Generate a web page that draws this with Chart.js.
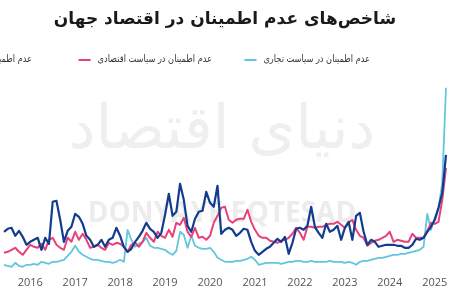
<!DOCTYPE html>
<html lang="fa">
<head>
<meta charset="utf-8">
<script src="https://cdn.jsdelivr.net/npm/chart.js@4"></script>
<style>
  html, body { margin: 0; padding: 0; background: #fff; }
  #wrap { width: 450px; height: 300px; position: relative; }
</style>
</head>
<body>
<div id="wrap"><canvas id="chart"></canvas></div>
<script>
// monthly data, Jun 2015 .. Apr 2025
const startYear = 2015;
const startMonth = 6;
const tickYears = ['2016', '2017', '2018', '2019', '2020', '2021', '2022', '2023', '2024', '2025'];

const seriesNames = ['عدم اطمینان جهانی', 'عدم اطمینان در سیاست اقتصادی', 'عدم اطمینان در سیاست تجاری'];

const worldUncertainty = [
  40, 43, 44, 36, 41, 35, 27, 30, 32, 34, 22, 34, 28, 70, 71, 52, 30, 41, 45, 58,
  55, 48, 36, 32, 25, 27, 32, 25, 32, 34, 44, 36, 25, 20, 23, 30, 35, 41, 49, 43,
  40, 34, 39, 57, 78, 56, 60, 88, 72, 46, 40, 53, 60, 61, 80, 69, 65, 86, 38, 42,
  44, 42, 36, 39, 43, 42, 30, 21, 17, 20, 23, 25, 29, 33, 30, 35, 18, 29, 43, 44,
  42, 46, 65, 45, 39, 34, 48, 40, 42, 46, 32, 44, 50, 32, 56, 59, 40, 27, 32, 30,
  25, 26, 27, 27, 27, 26, 26, 24, 24, 27, 33, 32, 34, 40, 45, 52, 64, 79, 117
];

const economicPolicy = [
  19, 20, 22, 24, 20, 17, 22, 27, 25, 24, 28, 22, 32, 34, 27, 24, 22, 34, 30, 40,
  32, 38, 32, 24, 25, 27, 24, 22, 29, 27, 29, 28, 25, 20, 27, 29, 25, 30, 39, 34,
  30, 40, 36, 34, 42, 35, 49, 47, 54, 40, 35, 44, 34, 35, 32, 36, 49, 56, 64, 65,
  52, 49, 52, 53, 53, 62, 50, 42, 36, 34, 34, 31, 30, 29, 31, 32, 34, 38, 44, 39,
  32, 45, 45, 44, 45, 45, 47, 48, 48, 50, 47, 44, 49, 52, 42, 36, 34, 26, 29, 31,
  32, 34, 36, 40, 30, 32, 31, 30, 30, 38, 34, 34, 34, 41, 49, 48, 50, 72, 104
];

const tradePolicy = [
  7, 6, 5, 9, 6, 5, 7, 7, 8, 7, 10, 9, 8, 10, 10, 11, 12, 16, 20, 26,
  20, 17, 15, 13, 12, 12, 11, 10, 10, 9, 10, 12, 10, 42, 32, 25, 28, 30, 34, 26,
  24, 24, 23, 22, 19, 17, 21, 40, 37, 24, 36, 26, 24, 23, 23, 24, 20, 14, 12, 10,
  10, 10, 11, 11, 12, 13, 15, 12, 7, 8, 9, 9, 9, 9, 8, 9, 10, 10, 11, 11,
  10, 10, 11, 10, 10, 10, 10, 11, 10, 10, 10, 9, 10, 9, 7, 10, 11, 11, 12, 13,
  14, 14, 15, 16, 17, 17, 18, 18, 19, 20, 21, 22, 25, 58, 42, 54, 64, 89, 184
];

// month labels; only January gets a visible tick
const monthLabels = worldUncertainty.map((_, i) => {
  const m = (startMonth - 1 + i) % 12 + 1;
  const y = startYear + Math.floor((startMonth - 1 + i) / 12);
  return m === 1 ? String(y) : '';
});

const watermark = {
  id: 'watermark',
  beforeDatasetsDraw(chart) {
    const ctx = chart.ctx;
    ctx.save();
    ctx.textAlign = 'center';
    ctx.textBaseline = 'middle';
    ctx.fillStyle = '#efefef';
    ctx.font = '60px "DejaVu Sans"';
    ctx.fillText('دنیای اقتصاد', 222, 132);
    ctx.fillStyle = '#ececec';
    ctx.font = 'bold 28px "Open Sans"';
    ctx.fillText('DONYAYE EQTESAD', 222, 214);
    ctx.restore();
  }
};

// legend drawn at fixed spots; the left entry runs off the canvas like the original crop
const legendColors = ['#123d8f', '#e8407a', '#62c6dc'];
const legendRight = [32, 212, 370];
const sideLegend = {
  id: 'sideLegend',
  afterDraw(chart) {
    const ctx = chart.ctx;
    const squeeze = 0.82;
    ctx.save();
    ctx.font = '10px "DejaVu Sans"';
    ctx.textBaseline = 'middle';
    ctx.textAlign = 'right';
    seriesNames.forEach((name, i) => {
      const right = legendRight[i];
      const w = ctx.measureText(name).width * squeeze;
      ctx.save();
      ctx.translate(right, 59);
      ctx.scale(squeeze, 1);
      ctx.fillStyle = '#333';
      ctx.fillText(name, 0, 0);
      ctx.restore();
      ctx.strokeStyle = legendColors[i];
      ctx.lineWidth = 2;
      ctx.beginPath();
      ctx.moveTo(right - w - 19, 60);
      ctx.lineTo(right - w - 7, 60);
      ctx.stroke();
    });
    ctx.restore();
  }
};

new Chart(document.getElementById('chart'), {
  type: 'line',
  data: {
    labels: monthLabels,
    datasets: [
      { label: seriesNames[0], data: worldUncertainty, borderColor: legendColors[0], borderWidth: 2.2 },
      { label: seriesNames[1], data: economicPolicy, borderColor: legendColors[1], borderWidth: 2 },
      { label: seriesNames[2], data: tradePolicy, borderColor: legendColors[2], borderWidth: 1.8 }
    ]
  },
  options: {
    responsive: true,
    maintainAspectRatio: false,
    animation: false,
    layout: { padding: { left: 0, right: 0, top: 0, bottom: 7 } },
    elements: {
      point: { radius: 0 },
      line: { tension: 0, borderJoinStyle: 'round', fill: false }
    },
    plugins: {
      legend: { display: false },
      tooltip: { enabled: false },
      title: {
        display: true,
        text: 'شاخص‌های عدم اطمینان در اقتصاد جهان',
        color: '#1a1a1a',
        font: { family: '"DejaVu Sans"', size: 17, weight: 'bold', lineHeight: 1.4 },
        padding: { top: 8, bottom: 40 }
      }
    },
    scales: {
      x: {
        offset: false,
        grid: { display: false, drawTicks: false },
        border: { display: false },
        ticks: {
          autoSkip: false,
          maxRotation: 0,
          padding: 4,
          color: '#555',
          font: { family: '"Open Sans"', size: 11 }
        }
      },
      y: {
        display: false,
        min: 0,
        max: 200
      }
    }
  },
  plugins: [watermark, sideLegend]
});
</script>
</body>
</html>
